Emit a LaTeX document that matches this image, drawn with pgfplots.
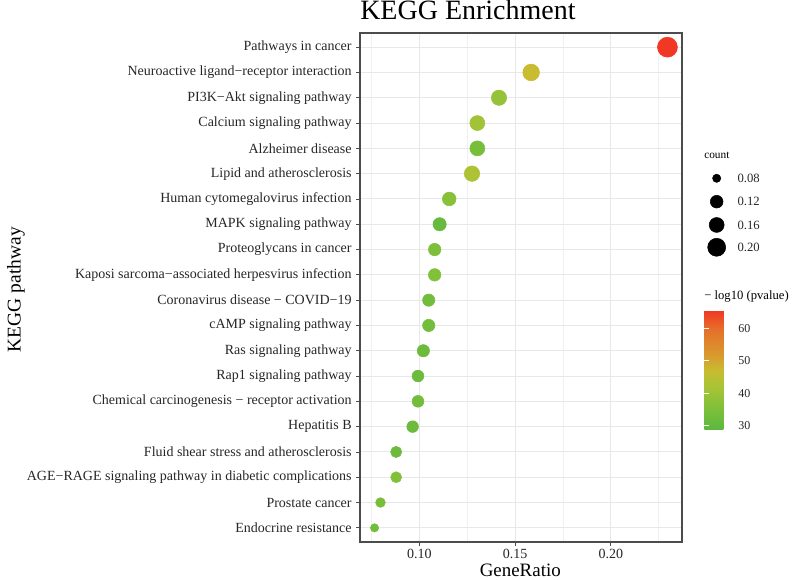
\documentclass[border=0pt]{standalone}
\usepackage{fontspec}
\setmainfont{Liberation Serif}
\usepackage{pgfplots}
\pgfplotsset{compat=1.18}
\usepackage{pgfplotstable}

\pgfplotstableread{
y ratio logp d
19 0.2296 65.4 20
18 0.1584 47 16.7
17 0.1416 39 15.3
16 0.1303 41 15
15 0.1303 34 15
14 0.1275 43 15.5
13 0.1156 37 13.7
12 0.1106 31 13.3
11 0.1080 35 12.5
10 0.1080 36 12.5
9 0.1049 33 12.3
8 0.1049 33 12.3
7 0.1021 32 12.3
6 0.0993 32 11.8
5 0.0993 33 11.8
4 0.0965 32 11.7
3 0.0879 32 11.2
2 0.0879 36 11
1 0.0797 34 9.7
0 0.0766 33 8.3
}\keggdata

\begin{document}
\begin{tikzpicture}[x=1pt,y=1pt]
\useasboundingbox (0,0) rectangle (600,434.25);
\begin{axis}[
  at={(270pt,27.75pt)}, anchor=south west, scale only axis,
  width=241.5pt, height=381.75pt,
  xmin=0.069, xmax=0.2372, ymin=-0.56, ymax=19.56,
  xtick={0.10,0.15,0.20}, xticklabels={0.10,0.15,0.20},
  minor xtick={0.075,0.125,0.175,0.225},
  ytick={0,...,19},
  yticklabels={Endocrine resistance,Prostate cancer,AGE−RAGE signaling pathway in diabetic complications,Fluid shear stress and atherosclerosis,Hepatitis B,Chemical carcinogenesis − receptor activation,Rap1 signaling pathway,Ras signaling pathway,cAMP signaling pathway,Coronavirus disease − COVID−19,Kaposi sarcoma−associated herpesvirus infection,Proteoglycans in cancer,MAPK signaling pathway,Human cytomegalovirus infection,Lipid and atherosclerosis,Alzheimer disease,Calcium signaling pathway,PI3K−Akt signaling pathway,Neuroactive ligand−receptor interaction,Pathways in cancer},
  grid=both,
  major grid style={color=black!9, line width=0.7pt},
  minor grid style={color=black!6, line width=0.4pt},
  axis line style={black!70, line width=0.8pt},
  tick align=outside, major tick length=2.75pt, minor tick length=0pt,
  tick style={black!70, line width=0.6pt},
  xtick pos=left, ytick pos=left,
  tick label style={font=\fontsize{10.5}{12}\selectfont, text=black!85},
  xticklabel style={inner sep=1.5pt, yshift=-1pt},
  /pgf/number format/assume math mode=true,
  colormap={kegg}{rgb255(29)=(92,184,62) rgb255(36)=(130,192,58) rgb255(42)=(168,196,54) rgb255(47)=(200,188,48) rgb255(51)=(215,158,46) rgb255(60)=(230,110,42) rgb255(65.4)=(240,56,36)},
  point meta min=29, point meta max=65.4,
  colorbar,
  colorbar style={
    at={(parent axis.south west)}, anchor=south west, xshift=249.75pt, yshift=84.75pt,
    scale only axis, width=19pt, height=88.7pt,
    ytick={30,40,50,60}, ytick pos=both, yticklabel pos=right,
    tick align=inside, major tick length=3.8pt,
    ytick style={white, line width=0.8pt},
    axis line style={draw=none},
    yticklabel style={font=\fontsize{9}{10}\selectfont, text=black!85, xshift=3pt},
    /pgf/number format/assume math mode=true,
  },
]
\addplot[scatter, only marks, mark=*,
  scatter/use mapped color={draw=mapped color, fill=mapped color},
  point meta=\thisrow{logp},
  visualization depends on={0.375*\thisrow{d} \as \msize},
  scatter/@pre marker code/.append style={/tikz/mark size=\msize pt}]
  table[x=ratio, y=y] {\keggdata};
\end{axis}

\begin{axis}[
  at={(528pt,239.25pt)}, anchor=south west, scale only axis,
  width=72pt, height=90pt, xmin=0, xmax=1, ymin=0, ymax=1,
  hide axis, clip=false]
\addplot[only marks, mark=*, mark size=3.1pt, black] coordinates {(0.132,0.681)};
\addplot[only marks, mark=*, mark size=4.76pt, black] coordinates {(0.132,0.486)};
\addplot[only marks, mark=*, mark size=5.6pt, black] coordinates {(0.132,0.292)};
\addplot[only marks, mark=*, mark size=6.75pt, black] coordinates {(0.132,0.106)};
\node[anchor=west, font=\fontsize{9.5}{10}\selectfont, text=black!85] at (axis cs:0.30,0.681) {0.08};
\node[anchor=west, font=\fontsize{9.5}{10}\selectfont, text=black!85] at (axis cs:0.30,0.486) {0.12};
\node[anchor=west, font=\fontsize{9.5}{10}\selectfont, text=black!85] at (axis cs:0.30,0.292) {0.16};
\node[anchor=west, font=\fontsize{9.5}{10}\selectfont, text=black!85] at (axis cs:0.30,0.106) {0.20};
\node[anchor=base west, inner sep=0pt, font=\fontsize{8.5}{10}\selectfont] at (axis cs:0,0.8475) {count};
\end{axis}

\node[anchor=base west, inner sep=0pt, font=\fontsize{21}{25}\selectfont] at (270,419.25) {KEGG Enrichment};
\node[rotate=90, inner sep=0pt, font=\fontsize{14.6}{17}\selectfont] at (12,217) {KEGG pathway};
\node[anchor=base, inner sep=0pt, font=\fontsize{14.2}{17}\selectfont] at (390.2,1.6) {GeneRatio};
\node[anchor=base west, inner sep=0pt, font=\fontsize{9.5}{11}\selectfont] at (528,209.25) {− log10 (pvalue)};
\end{tikzpicture}
\end{document}
